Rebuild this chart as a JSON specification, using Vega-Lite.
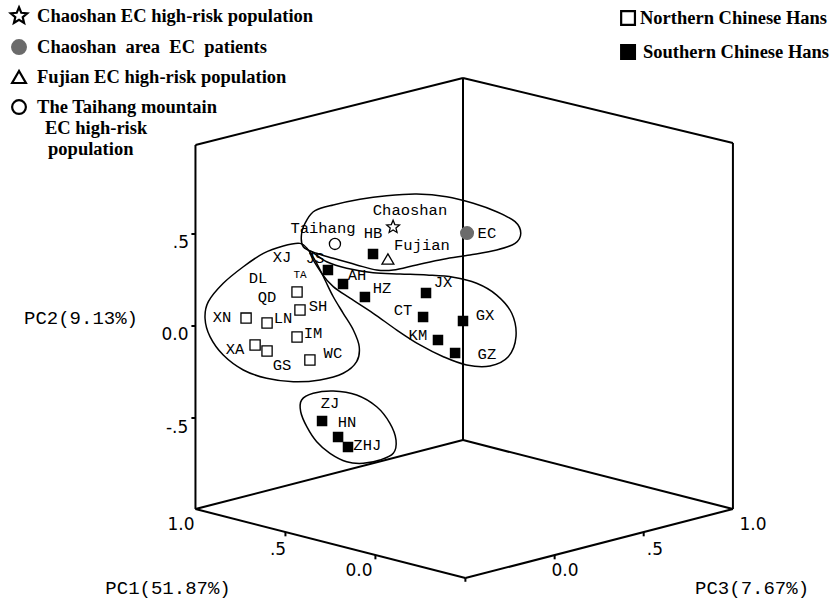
{
  "$schema": "https://vega.github.io/schema/vega-lite/v6.json",
  "width": 837,
  "height": 603,
  "autosize": {"type": "none"},
  "padding": 0,
  "background": "white",
  "config": {"view": {"stroke": null}},
  "datasets": {
    "frame": [
      {"x": 0, "y": 1.348, "x2": 0, "y2": -0.62},
      {"x": -1.454, "y": 0.984, "x2": -1.454, "y2": -0.995},
      {"x": 1.467, "y": 0.995, "x2": 1.467, "y2": -0.995},
      {"x": -1.454, "y": 0.984, "x2": 0, "y2": 1.348},
      {"x": 0, "y": 1.348, "x2": 1.467, "y2": 0.995},
      {"x": -1.454, "y": -0.995, "x2": 0, "y2": -0.62},
      {"x": 0, "y": -0.62, "x2": 1.467, "y2": -0.995},
      {"x": -1.454, "y": -0.995, "x2": 0.013, "y2": -1.37},
      {"x": 0.013, "y": -1.37, "x2": 1.467, "y2": -0.995},
      {"x": -1.476, "y": 0.5, "x2": -1.454, "y2": 0.5},
      {"x": -1.476, "y": 0, "x2": -1.454, "y2": 0},
      {"x": -1.476, "y": -0.5, "x2": -1.454, "y2": -0.5},
      {"x": -0.965, "y": -1.12, "x2": -0.965, "y2": -1.143},
      {"x": -0.476, "y": -1.245, "x2": -0.476, "y2": -1.268},
      {"x": 0.013, "y": -1.37, "x2": 0.013, "y2": -1.39},
      {"x": 0.498, "y": -1.245, "x2": 0.498, "y2": -1.268},
      {"x": 0.982, "y": -1.12, "x2": 0.982, "y2": -1.143}
    ],
    "outline": [
      {"cluster": "top", "ord": 1, "x": -0.868, "y": 0.431},
      {"cluster": "top", "ord": 2, "x": -0.877, "y": 0.504},
      {"cluster": "top", "ord": 3, "x": -0.849, "y": 0.576},
      {"cluster": "top", "ord": 4, "x": -0.804, "y": 0.627},
      {"cluster": "top", "ord": 5, "x": -0.705, "y": 0.658},
      {"cluster": "top", "ord": 6, "x": -0.56, "y": 0.689},
      {"cluster": "top", "ord": 7, "x": -0.415, "y": 0.708},
      {"cluster": "top", "ord": 8, "x": -0.252, "y": 0.717},
      {"cluster": "top", "ord": 9, "x": -0.089, "y": 0.703},
      {"cluster": "top", "ord": 10, "x": 0.056, "y": 0.667},
      {"cluster": "top", "ord": 11, "x": 0.183, "y": 0.621},
      {"cluster": "top", "ord": 12, "x": 0.283, "y": 0.567},
      {"cluster": "top", "ord": 13, "x": 0.314, "y": 0.504},
      {"cluster": "top", "ord": 14, "x": 0.283, "y": 0.449},
      {"cluster": "top", "ord": 15, "x": 0.183, "y": 0.413},
      {"cluster": "top", "ord": 16, "x": 0.038, "y": 0.386},
      {"cluster": "top", "ord": 17, "x": -0.107, "y": 0.363},
      {"cluster": "top", "ord": 18, "x": -0.252, "y": 0.332},
      {"cluster": "top", "ord": 19, "x": -0.379, "y": 0.304},
      {"cluster": "top", "ord": 20, "x": -0.469, "y": 0.304},
      {"cluster": "top", "ord": 21, "x": -0.578, "y": 0.332},
      {"cluster": "top", "ord": 22, "x": -0.705, "y": 0.368},
      {"cluster": "top", "ord": 23, "x": -0.795, "y": 0.395},
      {"cluster": "north", "ord": 1, "x": -0.886, "y": 0.449},
      {"cluster": "north", "ord": 2, "x": -0.977, "y": 0.435},
      {"cluster": "north", "ord": 3, "x": -1.085, "y": 0.395},
      {"cluster": "north", "ord": 4, "x": -1.194, "y": 0.322},
      {"cluster": "north", "ord": 5, "x": -1.303, "y": 0.232},
      {"cluster": "north", "ord": 6, "x": -1.384, "y": 0.132},
      {"cluster": "north", "ord": 7, "x": -1.402, "y": 0.042},
      {"cluster": "north", "ord": 8, "x": -1.375, "y": -0.058},
      {"cluster": "north", "ord": 9, "x": -1.303, "y": -0.158},
      {"cluster": "north", "ord": 10, "x": -1.194, "y": -0.239},
      {"cluster": "north", "ord": 11, "x": -1.067, "y": -0.284},
      {"cluster": "north", "ord": 12, "x": -0.922, "y": -0.303},
      {"cluster": "north", "ord": 13, "x": -0.777, "y": -0.293},
      {"cluster": "north", "ord": 14, "x": -0.651, "y": -0.257},
      {"cluster": "north", "ord": 15, "x": -0.578, "y": -0.194},
      {"cluster": "north", "ord": 16, "x": -0.564, "y": -0.113},
      {"cluster": "north", "ord": 17, "x": -0.596, "y": -0.022},
      {"cluster": "north", "ord": 18, "x": -0.651, "y": 0.069},
      {"cluster": "north", "ord": 19, "x": -0.705, "y": 0.159},
      {"cluster": "north", "ord": 20, "x": -0.75, "y": 0.25},
      {"cluster": "north", "ord": 21, "x": -0.795, "y": 0.341},
      {"cluster": "north", "ord": 22, "x": -0.841, "y": 0.413},
      {"cluster": "south", "ord": 1, "x": -0.832, "y": 0.404},
      {"cluster": "south", "ord": 2, "x": -0.741, "y": 0.349},
      {"cluster": "south", "ord": 3, "x": -0.632, "y": 0.314},
      {"cluster": "south", "ord": 4, "x": -0.488, "y": 0.29},
      {"cluster": "south", "ord": 5, "x": -0.342, "y": 0.283},
      {"cluster": "south", "ord": 6, "x": -0.197, "y": 0.277},
      {"cluster": "south", "ord": 7, "x": -0.053, "y": 0.265},
      {"cluster": "south", "ord": 8, "x": 0.074, "y": 0.232},
      {"cluster": "south", "ord": 9, "x": 0.183, "y": 0.168},
      {"cluster": "south", "ord": 10, "x": 0.265, "y": 0.069},
      {"cluster": "south", "ord": 11, "x": 0.288, "y": -0.058},
      {"cluster": "south", "ord": 12, "x": 0.246, "y": -0.167},
      {"cluster": "south", "ord": 13, "x": 0.147, "y": -0.217},
      {"cluster": "south", "ord": 14, "x": 0.02, "y": -0.212},
      {"cluster": "south", "ord": 15, "x": -0.107, "y": -0.167},
      {"cluster": "south", "ord": 16, "x": -0.234, "y": -0.103},
      {"cluster": "south", "ord": 17, "x": -0.36, "y": -0.022},
      {"cluster": "south", "ord": 18, "x": -0.488, "y": 0.069},
      {"cluster": "south", "ord": 19, "x": -0.614, "y": 0.151},
      {"cluster": "south", "ord": 20, "x": -0.705, "y": 0.214},
      {"cluster": "south", "ord": 21, "x": -0.768, "y": 0.286},
      {"cluster": "bottom", "ord": 1, "x": -0.877, "y": -0.402},
      {"cluster": "bottom", "ord": 2, "x": -0.814, "y": -0.366},
      {"cluster": "bottom", "ord": 3, "x": -0.705, "y": -0.353},
      {"cluster": "bottom", "ord": 4, "x": -0.578, "y": -0.375},
      {"cluster": "bottom", "ord": 5, "x": -0.469, "y": -0.439},
      {"cluster": "bottom", "ord": 6, "x": -0.397, "y": -0.529},
      {"cluster": "bottom", "ord": 7, "x": -0.364, "y": -0.62},
      {"cluster": "bottom", "ord": 8, "x": -0.379, "y": -0.692},
      {"cluster": "bottom", "ord": 9, "x": -0.451, "y": -0.728},
      {"cluster": "bottom", "ord": 10, "x": -0.542, "y": -0.746},
      {"cluster": "bottom", "ord": 11, "x": -0.632, "y": -0.738},
      {"cluster": "bottom", "ord": 12, "x": -0.723, "y": -0.692},
      {"cluster": "bottom", "ord": 13, "x": -0.795, "y": -0.629},
      {"cluster": "bottom", "ord": 14, "x": -0.849, "y": -0.547},
      {"cluster": "bottom", "ord": 15, "x": -0.882, "y": -0.466}
    ],
    "pops": [
      {"name": "Chaoshan", "group": "chaoshan", "x": -0.38, "y": 0.538},
      {"name": "EC", "group": "ec", "x": 0.022, "y": 0.505},
      {"name": "Taihang", "group": "taihang", "x": -0.696, "y": 0.446},
      {"name": "Fujian", "group": "fujian", "x": -0.408, "y": 0.364},
      {"name": "HB", "group": "south", "x": -0.489, "y": 0.391},
      {"name": "JS", "group": "south", "x": -0.734, "y": 0.304},
      {"name": "AH", "group": "south", "x": -0.652, "y": 0.228},
      {"name": "HZ", "group": "south", "x": -0.533, "y": 0.158},
      {"name": "JX", "group": "south", "x": -0.201, "y": 0.179},
      {"name": "CT", "group": "south", "x": -0.217, "y": 0.049},
      {"name": "GX", "group": "south", "x": 0.0, "y": 0.027},
      {"name": "KM", "group": "south", "x": -0.136, "y": -0.076},
      {"name": "GZ", "group": "south", "x": -0.043, "y": -0.147},
      {"name": "ZJ", "group": "south", "x": -0.766, "y": -0.516},
      {"name": "HN", "group": "south", "x": -0.679, "y": -0.603},
      {"name": "ZHJ", "group": "south", "x": -0.625, "y": -0.658},
      {"name": "TA", "group": "north", "x": -0.902, "y": 0.185},
      {"name": "SH", "group": "north", "x": -0.886, "y": 0.087},
      {"name": "XN", "group": "north", "x": -1.179, "y": 0.043},
      {"name": "LN", "group": "north", "x": -1.065, "y": 0.016},
      {"name": "IM", "group": "north", "x": -0.902, "y": -0.06},
      {"name": "XA", "group": "north", "x": -1.13, "y": -0.103},
      {"name": "GS", "group": "north", "x": -1.065, "y": -0.136},
      {"name": "WC", "group": "north", "x": -0.832, "y": -0.185}
    ],
    "labels": [
      {"text": "Chaoshan", "x": -0.288, "y": 0.63},
      {"text": "EC", "x": 0.13, "y": 0.505},
      {"text": "Taihang", "x": -0.761, "y": 0.533},
      {"text": "HB", "x": -0.489, "y": 0.505},
      {"text": "Fujian", "x": -0.223, "y": 0.44},
      {"text": "JS", "x": -0.804, "y": 0.37},
      {"text": "XJ", "x": -0.984, "y": 0.375},
      {"text": "DL", "x": -1.114, "y": 0.261},
      {"text": "TA", "x": -0.886, "y": 0.277},
      {"text": "QD", "x": -1.065, "y": 0.158},
      {"text": "SH", "x": -0.788, "y": 0.109},
      {"text": "XN", "x": -1.31, "y": 0.049},
      {"text": "LN", "x": -0.978, "y": 0.043},
      {"text": "IM", "x": -0.815, "y": -0.038},
      {"text": "XA", "x": -1.239, "y": -0.125},
      {"text": "GS", "x": -0.984, "y": -0.212},
      {"text": "WC", "x": -0.707, "y": -0.147},
      {"text": "AH", "x": -0.576, "y": 0.277},
      {"text": "HZ", "x": -0.44, "y": 0.207},
      {"text": "JX", "x": -0.109, "y": 0.239},
      {"text": "CT", "x": -0.326, "y": 0.087},
      {"text": "GX", "x": 0.12, "y": 0.06},
      {"text": "KM", "x": -0.245, "y": -0.049},
      {"text": "GZ", "x": 0.13, "y": -0.152},
      {"text": "ZJ", "x": -0.723, "y": -0.418},
      {"text": "HN", "x": -0.63, "y": -0.522},
      {"text": "ZHJ", "x": -0.52, "y": -0.647}
    ],
    "ticklabels": [
      {"text": ".5", "x": -1.533, "y": 0.451},
      {"text": "0.0", "x": -1.565, "y": -0.049},
      {"text": "-.5", "x": -1.554, "y": -0.554},
      {"text": "1.0", "x": -1.533, "y": -1.082},
      {"text": ".5", "x": -1.005, "y": -1.217},
      {"text": "0.0", "x": -0.565, "y": -1.332},
      {"text": "0.0", "x": 0.554, "y": -1.332},
      {"text": ".5", "x": 1.043, "y": -1.217},
      {"text": "1.0", "x": 1.576, "y": -1.082}
    ],
    "titles": [
      {"text": "PC2(9.13%)", "x": -2.076, "y": 0.043},
      {"text": "PC1(51.87%)", "x": -1.603, "y": -1.424},
      {"text": "PC3(7.67%)", "x": 1.571, "y": -1.424}
    ],
    "legsym": [
      {"group": "chaoshan", "x": -2.413, "y": 1.685},
      {"group": "ec", "x": -2.413, "y": 1.516},
      {"group": "fujian", "x": -2.413, "y": 1.353},
      {"group": "taihang", "x": -2.413, "y": 1.19},
      {"group": "north", "x": 0.897, "y": 1.674},
      {"group": "south", "x": 0.897, "y": 1.489}
    ],
    "legtext": [
      {"text": "Chaoshan EC high-risk population", "x": -2.315, "y": 1.685},
      {"text": "Chaoshan \u00a0area \u00a0EC \u00a0patients", "x": -2.315, "y": 1.516},
      {"text": "Fujian EC high-risk population", "x": -2.315, "y": 1.353},
      {"text": "The Taihang mountain", "x": -2.315, "y": 1.19},
      {"text": "EC high-risk", "x": -2.272, "y": 1.076},
      {"text": "population", "x": -2.255, "y": 0.962},
      {"text": "Northern Chinese Hans", "x": 0.962, "y": 1.674},
      {"text": "Southern Chinese Hans", "x": 0.978, "y": 1.489}
    ]
  },
  "encoding": {
    "x": {"field": "x", "type": "quantitative", "axis": null, "scale": {"domain": [-2.5163, 2.0326], "nice": false, "zero": false}},
    "y": {"field": "y", "type": "quantitative", "axis": null, "scale": {"domain": [-1.5054, 1.7717], "nice": false, "zero": false}}
  },
  "layer": [
    {
      "data": {"name": "frame"},
      "mark": {"type": "rule", "color": "black", "strokeWidth": 2},
      "encoding": {"x2": {"field": "x2"}, "y2": {"field": "y2"}}
    },
    {
      "data": {"name": "outline"},
      "mark": {"type": "line", "interpolate": "cardinal-closed", "color": "black", "strokeWidth": 1.5},
      "encoding": {
        "detail": {"field": "cluster", "type": "nominal"},
        "order": {"field": "ord", "type": "quantitative"}
      }
    },
    {
      "data": {"name": "pops"},
      "mark": {"type": "point", "filled": true, "opacity": 1, "strokeWidth": 1.3},
      "encoding": {
        "shape": {"field": "group", "type": "nominal", "legend": null, "scale": {"domain": ["chaoshan", "ec", "fujian", "taihang", "north", "south"], "range": ["M0,-1L0.265,-0.364L0.951,-0.309L0.428,0.139L0.588,0.809L0,0.45L-0.588,0.809L-0.428,0.139L-0.951,-0.309L-0.265,-0.364Z", "circle", "triangle-up", "circle", "square", "square"]}},
        "fill": {"field": "group", "type": "nominal", "legend": null, "scale": {"domain": ["chaoshan", "ec", "fujian", "taihang", "north", "south"], "range": ["white", "#6b6b6b", "white", "white", "white", "black"]}},
        "stroke": {"field": "group", "type": "nominal", "legend": null, "scale": {"domain": ["chaoshan", "ec", "fujian", "taihang", "north", "south"], "range": ["black", "#6b6b6b", "black", "black", "black", "black"]}},
        "size": {"field": "group", "type": "ordinal", "legend": null, "scale": {"domain": ["chaoshan", "ec", "fujian", "taihang", "north", "south"], "range": [180, 85, 125, 70, 60, 100]}}
      }
    },
    {
      "data": {"name": "labels"},
      "mark": {"type": "text", "font": "Liberation Mono", "align": "center", "baseline": "middle", "color": "black"},
      "encoding": {
        "text": {"field": "text"},
        "size": {"condition": {"test": "datum.text === 'TA'", "value": 11}, "value": 15.5}
      }
    },
    {
      "data": {"name": "ticklabels"},
      "mark": {"type": "text", "font": "DejaVu Sans", "fontSize": 17, "align": "center", "baseline": "middle", "color": "black"},
      "encoding": {"text": {"field": "text"}}
    },
    {
      "data": {"name": "titles"},
      "mark": {"type": "text", "font": "Liberation Mono", "fontSize": 19, "align": "center", "baseline": "middle", "color": "black"},
      "encoding": {"text": {"field": "text"}}
    },
    {
      "data": {"name": "legsym"},
      "mark": {"type": "point", "filled": true, "opacity": 1, "strokeWidth": 2.2},
      "encoding": {
        "shape": {"field": "group", "type": "nominal", "legend": null},
        "fill": {"field": "group", "type": "nominal", "legend": null},
        "stroke": {"field": "group", "type": "nominal", "legend": null},
        "size": {"condition": {"test": "datum.group === 'chaoshan'", "value": 300}, "value": 190}
      }
    },
    {
      "data": {"name": "legtext"},
      "mark": {"type": "text", "font": "Liberation Serif", "fontWeight": "bold", "fontSize": 18.5, "align": "left", "baseline": "middle", "color": "black"},
      "encoding": {"text": {"field": "text"}}
    }
  ]
}
